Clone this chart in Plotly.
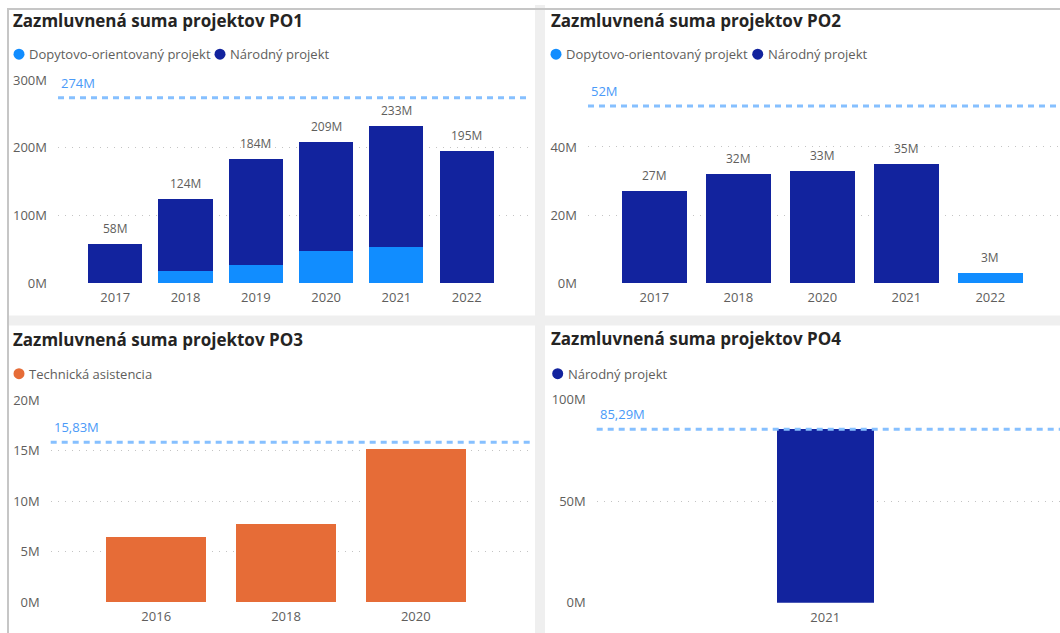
import plotly.graph_objects as go

W, H = 1060, 633

# ---------------- data ----------------
po1_years = ["2017", "2018", "2019", "2020", "2021", "2022"]
po1_dopytovo = [0, 18, 27, 47, 53, 0]
po1_narodny = [58, 106, 157, 162, 180, 195]
po1_ref = 274
po1_yticks = [0, 100, 200, 300]

po2_years = ["2017", "2018", "2020", "2021", "2022"]
po2_dopytovo = [0, 0, 0, 0, 3]
po2_narodny = [27, 32, 33, 35, 0]
po2_ref = 52
po2_yticks = [0, 20, 40]

po3_years = ["2016", "2018", "2020"]
po3_technicka = [6.4, 7.7, 15.2]
po3_ref = 15.83
po3_yticks = [0, 5, 10, 15, 20]

po4_years = ["2021"]
po4_narodny = [85.29]
po4_ref = 85.29
po4_yticks = [0, 50, 100]

titles = ["Zazmluvnená suma projektov PO1", "Zazmluvnená suma projektov PO2",
          "Zazmluvnená suma projektov PO3", "Zazmluvnená suma projektov PO4"]
name_dop = "Dopytovo-orientovaný projekt"
name_nar = "Národný projekt"
name_ta = "Technická asistencia"

# ---------------- style ----------------
C_NAR = "#12239e"
C_DOP = "#118dff"
C_TA = "#e66c37"
C_REF = "#86c0ff"
C_REFTXT = "#4a9af8"
C_TXT = "#605e5c"
C_TITLE = "#252423"
FONT = "Open Sans"


def fmt(v):
    if abs(v - round(v)) < 1e-9:
        return f"{int(round(v))}M"
    return f"{v:.2f}M".replace(".", ",")


# vertical calibration of the page photograph (observed: y_img = 8.9 + 0.970 * y_fig)
Y_OFF, Y_SCALE = 8.9, 0.970


def px_x(p):
    return p / W


def px_y(p):
    return 1 - ((p - Y_OFF) / Y_SCALE) / H


# panel layout (target pixels in the picture)
panels = [
    dict(x0=58, x1=530, y0=80, y1=282.7, xr=[-0.814, 5.9], yr=[0, 300], ticks=po1_yticks, ref=po1_ref,
         title_xy=(11, 20), leg_y=54, leg=[(19, name_dop, C_DOP), (220, name_nar, C_NAR)]),
    dict(x0=588, x1=1060, y0=80, y1=282.7, xr=[-0.79, 4.83], yr=[0, 59.6], ticks=po2_yticks, ref=po2_ref,
         title_xy=(549, 20), leg_y=54, leg=[(556, name_dop, C_DOP), (757.7, name_nar, C_NAR)]),
    dict(x0=50.7, x1=530, y0=399.3, y1=601, xr=[-0.813, 2.88], yr=[0, 20], ticks=po3_yticks, ref=po3_ref,
         title_xy=(11, 339), leg_y=373, leg=[(19, name_ta, C_TA)]),
    dict(x0=596.7, x1=1060, y0=398.7, y1=601.7, xr=[-1.82, 1.87], yr=[0, 100], ticks=po4_yticks, ref=po4_ref,
         title_xy=(549, 338), leg_y=373, leg=[(557.7, name_nar, C_NAR)]),
]

fig = go.Figure()

BW = 0.77
shapes = []
annotations = []


def axn(i):
    return "" if i == 0 else str(i + 1)


def add_bar(i, x, y, color, name):
    ax = axn(i)
    fig.add_trace(go.Bar(x=x, y=y, marker=dict(color=color, line=dict(width=0)), width=BW,
                         name=name, showlegend=False, xaxis="x" + ax, yaxis="y" + ax))


def add_labels(i, x, totals):
    ax = axn(i)
    # category axis: annotate by category position index
    for j, t in enumerate(totals):
        annotations.append(dict(xref="x" + ax, yref="y" + ax, x=j, y=t, text=fmt(round(t)),
                                showarrow=False, xanchor="center", yanchor="bottom", yshift=5,
                                font=dict(family=FONT, size=12, color=C_TXT)))


# PO1
add_bar(0, po1_years, po1_dopytovo, C_DOP, name_dop)
add_bar(0, po1_years, po1_narodny, C_NAR, name_nar)
add_labels(0, po1_years, [a + b for a, b in zip(po1_dopytovo, po1_narodny)])
# PO2
add_bar(1, po2_years, po2_dopytovo, C_DOP, name_dop)
add_bar(1, po2_years, po2_narodny, C_NAR, name_nar)
add_labels(1, po2_years, [a + b for a, b in zip(po2_dopytovo, po2_narodny)])
# PO3
add_bar(2, po3_years, po3_technicka, C_TA, name_ta)
# PO4
add_bar(3, po4_years, po4_narodny, C_NAR, name_nar)

# background frame and gaps
GAP = "#efefef"
shapes.append(dict(type="rect", xref="paper", yref="paper", x0=px_x(535), x1=px_x(545), y0=px_y(660), y1=px_y(5),
                   fillcolor=GAP, line=dict(width=0), layer="below"))
shapes.append(dict(type="rect", xref="paper", yref="paper", x0=px_x(8), x1=px_x(1060), y0=px_y(325), y1=px_y(315),
                   fillcolor=GAP, line=dict(width=0), layer="below"))
shapes.append(dict(type="rect", xref="paper", yref="paper", x0=px_x(7), x1=px_x(1060), y0=px_y(10), y1=px_y(8),
                   fillcolor="#c6c6c6", line=dict(width=0), layer="below"))
shapes.append(dict(type="rect", xref="paper", yref="paper", x0=px_x(7), x1=px_x(9), y0=px_y(660), y1=px_y(8),
                   fillcolor="#c6c6c6", line=dict(width=0), layer="below"))

layout_axes = {}
for i, p in enumerate(panels):
    ax = axn(i)
    layout_axes["xaxis" + ax] = dict(
        domain=[px_x(p["x0"]), px_x(p["x1"])], anchor="y" + ax, type="category", range=p["xr"],
        showgrid=False, showline=False, zeroline=False, ticks="", ticklabelstandoff=5,
        tickfont=dict(family=FONT, size=13, color=C_TXT), fixedrange=True)
    layout_axes["yaxis" + ax] = dict(
        domain=[px_y(p["y1"]), px_y(p["y0"])], anchor="x" + ax, range=p["yr"],
        tickvals=p["ticks"], ticktext=[fmt(v) for v in p["ticks"]],
        showgrid=True, gridcolor="#c4c4c4", griddash="1px,6px", gridwidth=1,
        zeroline=False, showline=False, ticks="", ticklabelstandoff=10,
        tickfont=dict(family=FONT, size=13, color=C_TXT), fixedrange=True)
    # reference line
    shapes.append(dict(type="line", xref="x" + ax + " domain", yref="y" + ax, x0=0, x1=1,
                       y0=p["ref"], y1=p["ref"], line=dict(color=C_REF, width=3, dash="6px,5px")))
    annotations.append(dict(xref="x" + ax + " domain", yref="y" + ax, x=0, y=p["ref"], text=fmt(p["ref"]),
                            showarrow=False, xanchor="left", yanchor="bottom", yshift=4, xshift=1,
                            font=dict(family=FONT, size=13, color=C_REFTXT)))
    # title
    tx, ty = p["title_xy"]
    annotations.append(dict(xref="paper", yref="paper", x=px_x(tx), y=px_y(ty), text=titles[i],
                            showarrow=False, xanchor="left", yanchor="middle",
                            font=dict(family=FONT, size=17, color=C_TITLE, weight="bold")))
    # legend
    for cx, name, col in p["leg"]:
        r = 5.5
        cy = p["leg_y"]
        shapes.append(dict(type="circle", xref="paper", yref="paper", x0=px_x(cx - r), x1=px_x(cx + r),
                           y0=px_y(cy + r), y1=px_y(cy - r), fillcolor=col, line=dict(width=0)))
        annotations.append(dict(xref="paper", yref="paper", x=px_x(cx + 8), y=px_y(cy), text=name,
                                showarrow=False, xanchor="left", yanchor="middle",
                                font=dict(family=FONT, size=13, color=C_TXT)))

fig.update_layout(
    width=W, height=H, autosize=False, margin=dict(l=0, r=0, t=0, b=0),
    paper_bgcolor="white", plot_bgcolor="rgba(0,0,0,0)",
    barmode="stack", bargap=0.23, showlegend=False,
    shapes=shapes, annotations=annotations,
    font=dict(family=FONT, color=C_TXT),
    **layout_axes,
)

POST = (
    "var de=document.documentElement, bd=document.body;"
    "de.style.margin='0';de.style.padding='0';de.style.overflow='hidden';"
    "bd.style.margin='0';bd.style.padding='0';bd.style.overflow='hidden';"
)

fig.write_html("out.html",
               config={"responsive": False, "displayModeBar": False},
               post_script=POST)
